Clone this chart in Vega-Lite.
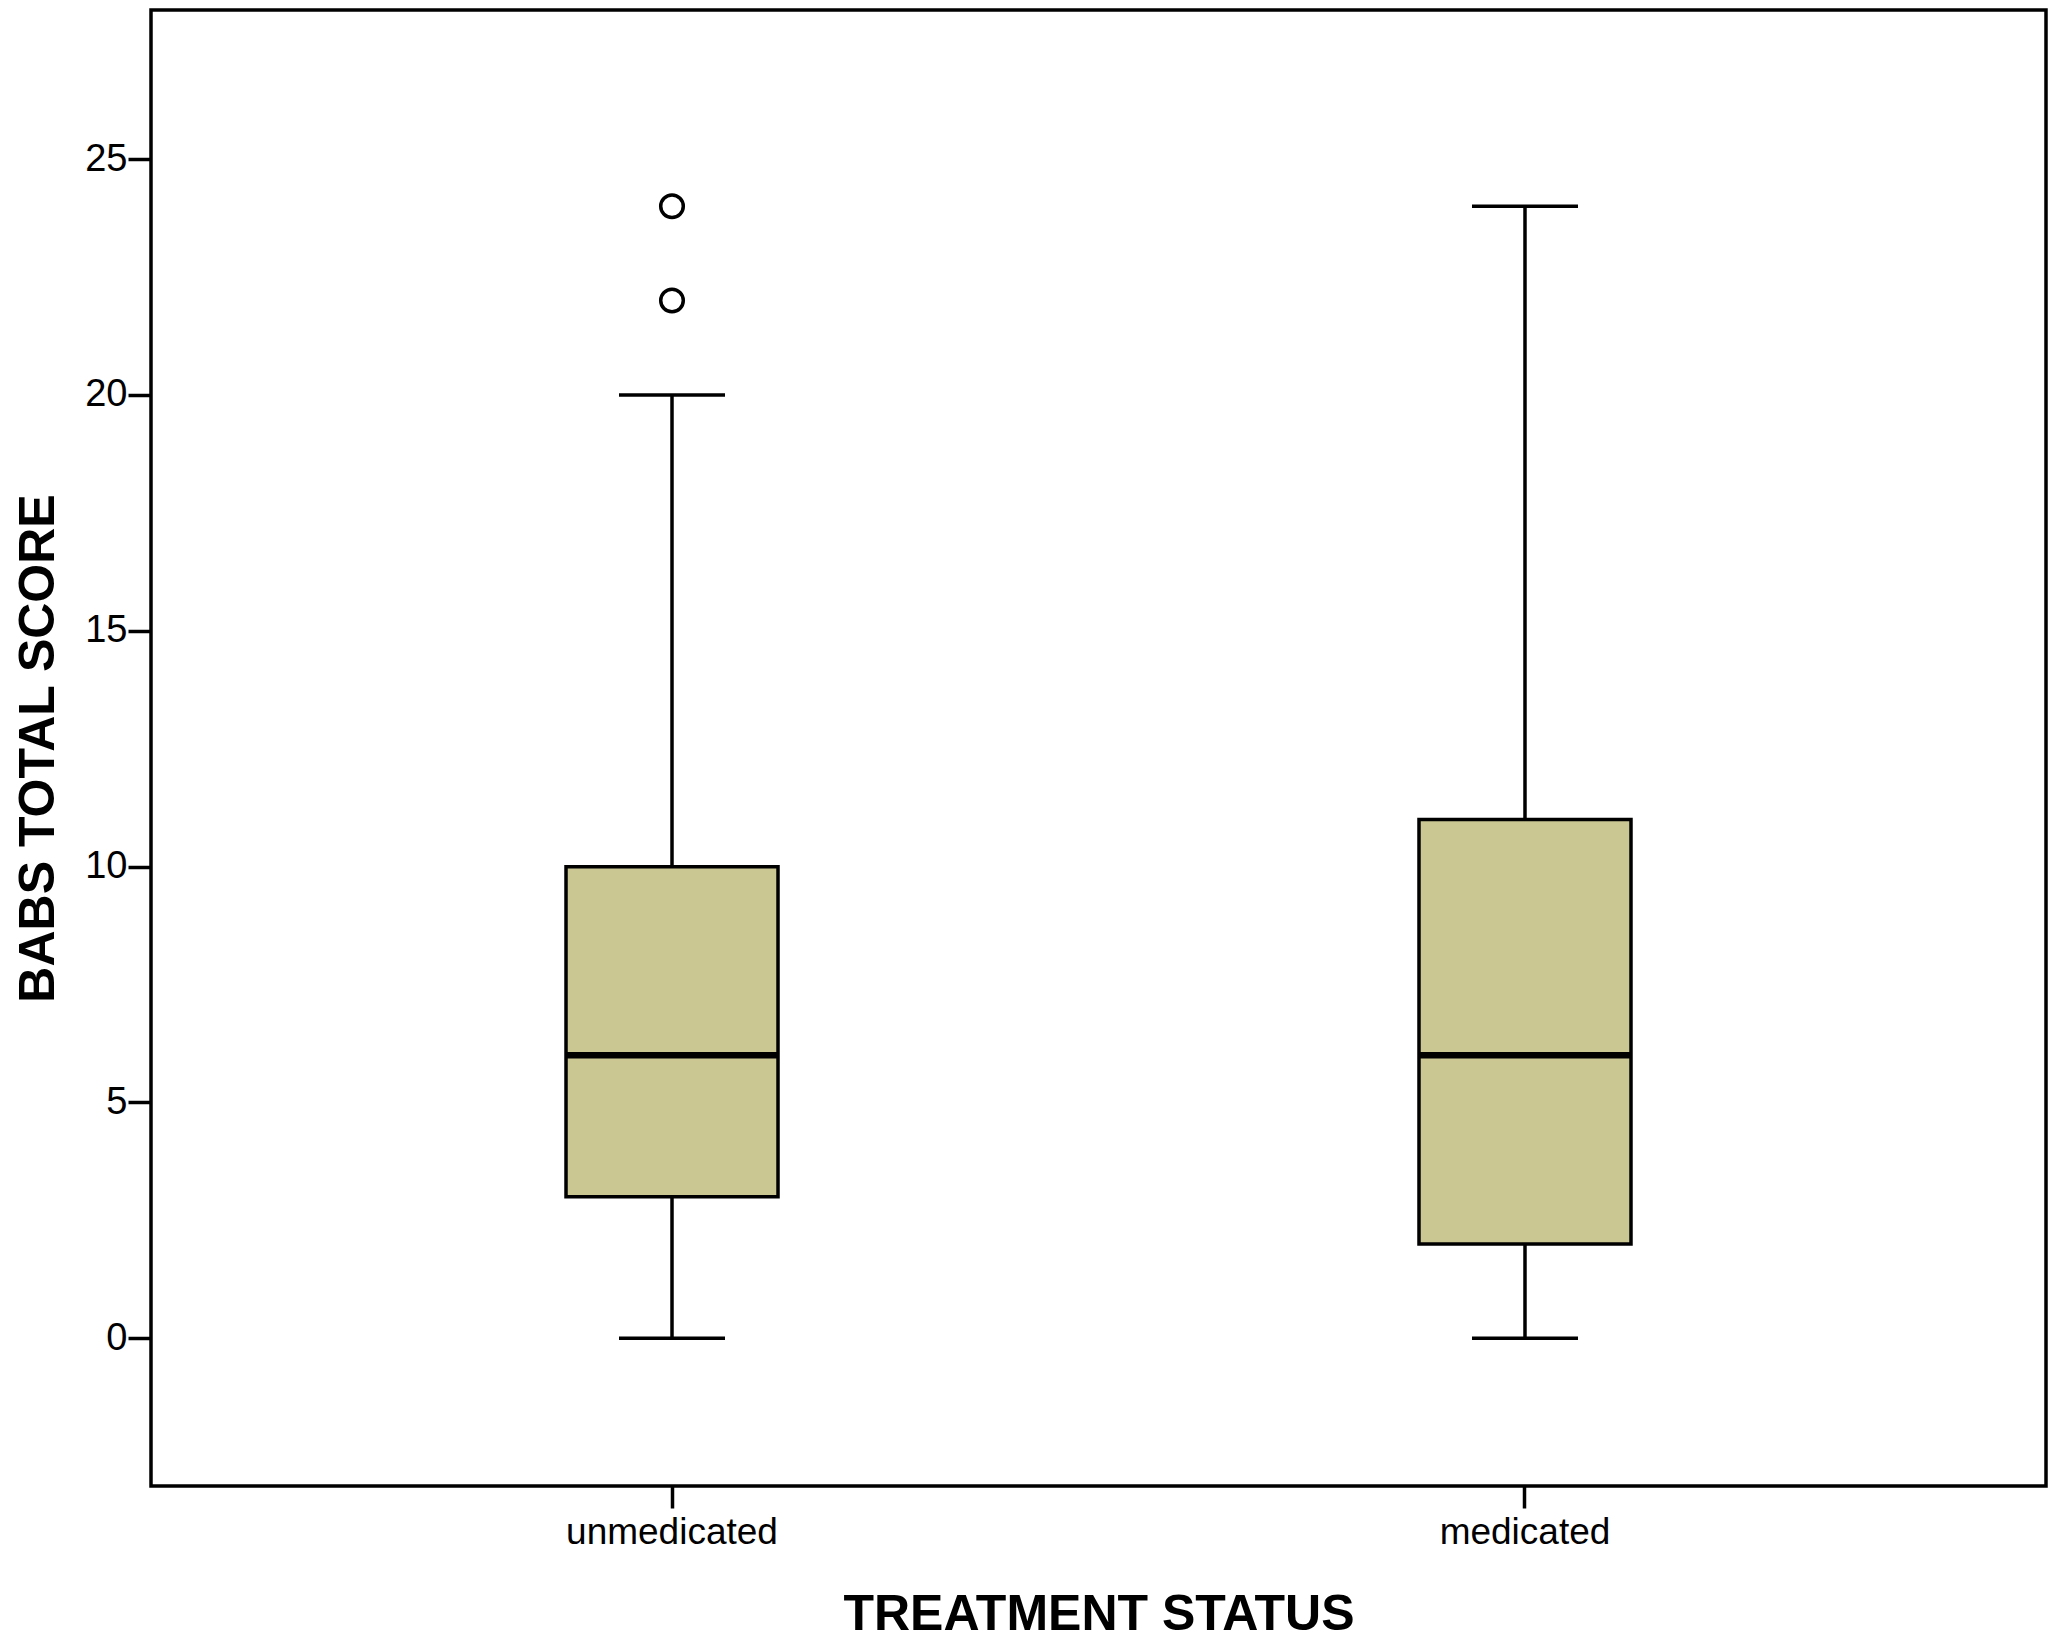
{
  "$schema": "https://vega.github.io/schema/vega-lite/v6.json",
  "width": 1895,
  "height": 1476,
  "autosize": {"type": "none"},
  "padding": {"left": 151, "top": 10, "right": 14, "bottom": 154},
  "background": "white",
  "config": {
    "view": {"stroke": "black", "strokeWidth": 3.5},
    "font": "Liberation Sans",
    "axis": {
      "labelFont": "Liberation Sans",
      "titleFont": "Liberation Sans",
      "labelColor": "black",
      "titleColor": "black",
      "tickColor": "black",
      "labelLimit": 0,
      "grid": false,
      "domain": false
    }
  },
  "datasets": {
    "stats": [
      {"status": "unmedicated", "lower": 0, "q1": 3, "median": 6, "q3": 10, "upper": 20},
      {"status": "medicated", "lower": 0, "q1": 2, "median": 6, "q3": 11, "upper": 24}
    ],
    "outliers": [
      {"status": "unmedicated", "score": 22},
      {"status": "unmedicated", "score": 24}
    ]
  },
  "encoding": {
    "x": {
      "field": "status",
      "type": "nominal",
      "sort": ["unmedicated", "medicated"],
      "scale": {"paddingInner": 0, "paddingOuter": 0.1108},
      "axis": {
        "title": "TREATMENT STATUS",
        "titleFontSize": 50,
        "titleFontWeight": "bold",
        "titleBaseline": "alphabetic",
        "titleY": 143,
        "labelFontSize": 37,
        "labelAngle": 0,
        "labelPadding": 6,
        "labelLimit": 0,
        "tickSize": 22,
        "tickWidth": 3.5
      }
    }
  },
  "layer": [
    {
      "data": {"name": "stats"},
      "mark": {"type": "rule", "color": "black", "strokeWidth": 3.5},
      "encoding": {
        "y": {
          "field": "lower", "type": "quantitative", "title": "BABS TOTAL SCORE",
          "scale": {"domain": [-3.13, 28.16], "nice": false, "zero": false},
          "axis": {
            "values": [0, 5, 10, 15, 20, 25],
            "labelFontSize": 38,
            "labelPadding": 1,
            "tickSize": 23,
            "tickWidth": 3.5,
            "titleFontSize": 50,
            "titleFontWeight": "bold",
            "titleAngle": -90,
            "titleBaseline": "alphabetic",
            "titleAlign": "center",
            "titleX": -98,
            "titleY": 738
          }
        },
        "y2": {"field": "upper"}
      }
    },
    {
      "data": {"name": "stats"},
      "mark": {"type": "tick", "color": "black", "size": 106, "thickness": 3.5, "opacity": 1},
      "encoding": {
        "y": {"field": "lower", "type": "quantitative", "title": "BABS TOTAL SCORE",
              "scale": {"domain": [-3.13, 28.16], "nice": false, "zero": false}}
      }
    },
    {
      "data": {"name": "stats"},
      "mark": {"type": "tick", "color": "black", "size": 106, "thickness": 3.5, "opacity": 1},
      "encoding": {
        "y": {"field": "upper", "type": "quantitative", "title": "BABS TOTAL SCORE",
              "scale": {"domain": [-3.13, 28.16], "nice": false, "zero": false}}
      }
    },
    {
      "data": {"name": "stats"},
      "mark": {"type": "bar", "size": 212, "fill": "#CAC793", "stroke": "black", "strokeWidth": 3.5, "opacity": 1},
      "encoding": {
        "y": {"field": "q1", "type": "quantitative", "title": "BABS TOTAL SCORE",
              "scale": {"domain": [-3.13, 28.16], "nice": false, "zero": false}},
        "y2": {"field": "q3"}
      }
    },
    {
      "data": {"name": "stats"},
      "mark": {"type": "tick", "color": "black", "size": 212, "thickness": 6.5, "opacity": 1},
      "encoding": {
        "y": {"field": "median", "type": "quantitative", "title": "BABS TOTAL SCORE",
              "scale": {"domain": [-3.13, 28.16], "nice": false, "zero": false}}
      }
    },
    {
      "data": {"name": "outliers"},
      "mark": {"type": "point", "shape": "circle", "filled": false, "stroke": "black", "strokeWidth": 3.5, "size": 510, "opacity": 1},
      "encoding": {
        "y": {"field": "score", "type": "quantitative", "title": "BABS TOTAL SCORE",
              "scale": {"domain": [-3.13, 28.16], "nice": false, "zero": false}}
      }
    }
  ]
}
